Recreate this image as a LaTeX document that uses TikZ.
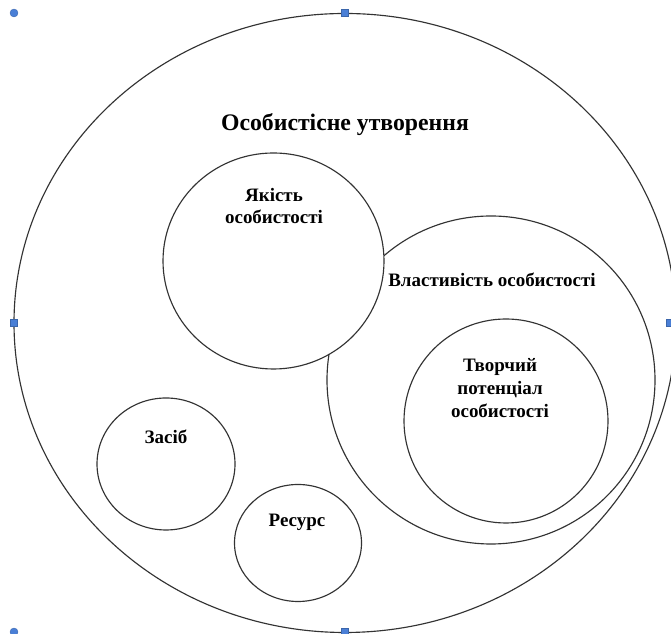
\documentclass[tikz,border=0pt]{standalone}
\usepackage{fontspec}
\setmainfont{Liberation Serif}
\usepackage{xcolor}
\definecolor{handleblue}{HTML}{4A7FD6}
\tikzset{
  ring/.style={draw=black!80,line width=0.65pt},
  lbl/.style={font=\bfseries\fontsize{10.8}{13}\selectfont,align=center,inner sep=1pt},
  handle/.style={fill=handleblue,draw=handleblue!80!black,line width=0.2pt}
}

\begin{document}
\begin{tikzpicture}
    \clip (0,0) rectangle (13.42,12.68);
    \fill[white] (0,0) rectangle (13.42,12.68);
    % outer ring
    \draw[ring] (6.90,6.22) ellipse [x radius=6.62,y radius=6.19];
    % property ring and the creative one inside it
    \draw[ring] (9.82,5.08) circle [radius=3.28];
    \draw[ring] (10.12,4.26) circle [radius=2.04];
    % quality ring lies over the property ring
    \draw[ring,fill=white] (5.47,7.46) ellipse [x radius=2.21,y radius=2.16];
    \draw[ring] (3.32,3.40) ellipse [x radius=1.38,y radius=1.32];
    \draw[ring] (5.96,1.82) ellipse [x radius=1.27,y radius=1.17];
    \node[lbl,font=\bfseries\fontsize{13.5}{16}\selectfont] (utvor) at (6.90,10.18) {Особистісне утворення};
    \node[lbl] (yakist) at (5.48,8.56) {Якість\\особистості};
    \node[lbl] (vlast) at (9.84,7.08) {Властивість особистості};
    \node[lbl] (tvorch) at (10.00,4.92) {Творчий\\потенціал\\особистості};
    \node[lbl] (zasib) at (3.32,3.94) {Засіб};
    \node[lbl] (resurs) at (5.94,2.24) {Ресурс};
    % selection handles
    \foreach \x/\y in {6.90/12.42, 0.28/6.22, 13.40/6.22, 6.90/0.04}
      \draw[handle] (\x-0.07,\y-0.07) rectangle (\x+0.07,\y+0.07);
    \foreach \x/\y in {0.28/12.42, 0.28/0.04}
      \draw[handle] (\x,\y) circle [radius=0.08];
\end{tikzpicture}
\end{document}
